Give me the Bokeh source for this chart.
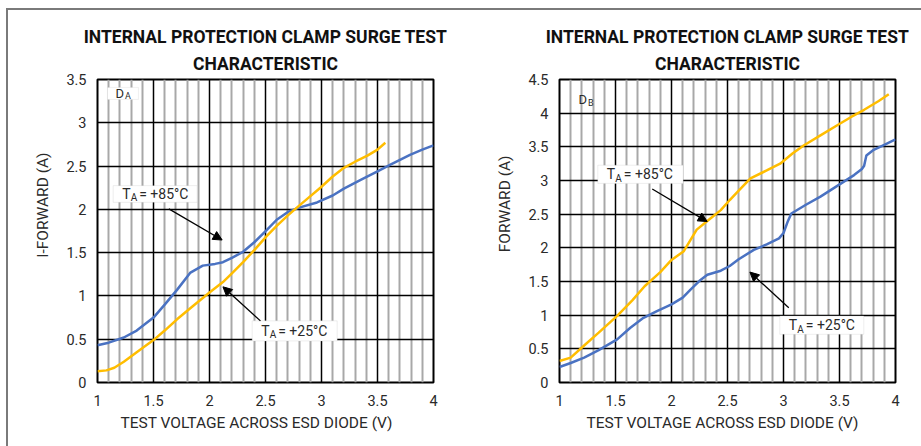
from bokeh.plotting import figure
from bokeh.layouts import row
from bokeh.models import (Range1d, FixedTicker, Label, Arrow, NormalHead,
                          BoxAnnotation, Title)
from bokeh.embed import file_html
from bokeh.resources import INLINE

# ---------------- data ----------------
# Panel D_A : blue = +85 C, yellow = +25 C
da85_v = [1.0, 1.1, 1.235, 1.35, 1.5, 1.6, 1.71, 1.83, 1.94, 2.05, 2.12, 2.2, 2.3, 2.4,
          2.51, 2.6, 2.7, 2.8, 2.96, 3.1, 3.2, 3.35, 3.5, 3.62, 3.79, 3.9, 4.0]
da85_i = [0.43, 0.46, 0.52, 0.60, 0.75, 0.90, 1.07, 1.27, 1.35, 1.37, 1.39, 1.44, 1.51, 1.62,
          1.76, 1.88, 1.97, 2.02, 2.08, 2.16, 2.24, 2.34, 2.44, 2.52, 2.63, 2.69, 2.74]
da25_v = [1.0, 1.08, 1.15, 1.235, 1.35, 1.5, 1.6, 1.71, 1.85, 2.0, 2.12, 2.2, 2.3, 2.4,
          2.51, 2.6, 2.7, 2.78, 2.88, 2.99, 3.1, 3.2, 3.3, 3.41, 3.5, 3.57]
da25_i = [0.13, 0.14, 0.17, 0.24, 0.35, 0.49, 0.60, 0.73, 0.88, 1.04, 1.16, 1.26, 1.39, 1.53,
          1.69, 1.81, 1.93, 2.02, 2.13, 2.25, 2.38, 2.48, 2.55, 2.62, 2.69, 2.77]

# Panel D_B : yellow = +85 C, blue = +25 C
db85_v = [1.0, 1.1, 1.22, 1.35, 1.515, 1.65, 1.76, 1.9, 2.0, 2.11, 2.225, 2.35, 2.44, 2.52,
          2.6, 2.705, 2.85, 2.97, 3.08, 3.18, 3.33, 3.48, 3.6, 3.72, 3.85, 3.94]
db85_i = [0.32, 0.37, 0.55, 0.74, 0.99, 1.22, 1.43, 1.64, 1.82, 1.95, 2.27, 2.44, 2.56, 2.71,
          2.85, 3.03, 3.15, 3.25, 3.40, 3.52, 3.67, 3.82, 3.94, 4.05, 4.18, 4.28]
db25_v = [1.0, 1.1, 1.22, 1.35, 1.515, 1.63, 1.75, 1.87, 2.0, 2.1, 2.17, 2.25, 2.32, 2.44,
          2.52, 2.6, 2.735, 2.85, 2.96, 3.0, 3.04, 3.07, 3.2, 3.33, 3.48, 3.63, 3.70, 3.72,
          3.74, 3.8, 3.9, 4.0]
db25_i = [0.23, 0.29, 0.37, 0.48, 0.64, 0.81, 0.96, 1.06, 1.16, 1.26, 1.38, 1.51, 1.60, 1.66,
          1.73, 1.83, 1.97, 2.05, 2.14, 2.22, 2.40, 2.51, 2.64, 2.76, 2.92, 3.08, 3.17, 3.22,
          3.37, 3.45, 3.53, 3.61]

x_ticks = [1, 1.5, 2, 2.5, 3, 3.5, 4]
x_tick_labels = ["1", "1.5", "2", "2.5", "3", "3.5", "4"]
da_y_ticks = [0, 0.5, 1, 1.5, 2, 2.5, 3, 3.5]
da_y_tick_labels = ["0", "0.5", "1", "1.5", "2", "2.5", "3", "3.5"]
db_y_ticks = [0, 0.5, 1, 1.5, 2, 2.5, 3, 3.5, 4, 4.5]
db_y_tick_labels = ["0", "0.5", "1", "1.5", "2", "2.5", "3", "3.5", "4", "4.5"]

title_lines = ["INTERNAL PROTECTION CLAMP SURGE TEST", "CHARACTERISTIC"]
x_title = "TEST VOLTAGE ACROSS ESD DIODE (V)"
da_y_title = "I-FORWARD (A)"
db_y_title = "FORWARD (A)"

BLUE = "#4a72c2"
YELLOW = "#ffbd00"
FONT = "Roboto"
TXT = "#2a2a2a"


def panel(width, left, right, top, bottom, ymax, yticks, ylabels, ytitle, yoff, xoff):
    p = figure(width=width, height=436, output_backend="svg", toolbar_location=None,
               x_range=Range1d(1, 4), y_range=Range1d(0, ymax),
               min_border_left=left, min_border_right=right,
               min_border_top=top, min_border_bottom=bottom)
    p.background_fill_color = "white"
    p.border_fill_color = "white"
    p.outline_line_color = "black"
    p.outline_line_width = 2
    minor = [round(1 + 0.1 * k, 1) for k in range(31) if k % 5]
    p.xaxis.ticker = FixedTicker(ticks=x_ticks, minor_ticks=minor)
    p.yaxis.ticker = FixedTicker(ticks=yticks)
    p.xaxis.major_label_overrides = dict(zip(x_ticks, x_tick_labels))
    p.yaxis.major_label_overrides = dict(zip(yticks, ylabels))
    for ax in (p.xaxis[0], p.yaxis[0]):
        ax.axis_line_color = None
        ax.major_tick_line_color = None
        ax.minor_tick_line_color = None
        ax.major_tick_out = 0
        ax.major_tick_in = 0
        ax.minor_tick_out = 0
        ax.major_label_text_font = FONT
        ax.major_label_text_font_size = "14.5px"
        ax.major_label_text_color = TXT
    p.xaxis.major_label_standoff = 12
    p.yaxis.major_label_standoff = 11
    p.xgrid.grid_line_color = "black"
    p.xgrid.grid_line_width = 1.5
    p.xgrid.minor_grid_line_color = "#a8a8a8"
    p.xgrid.minor_grid_line_width = 2
    p.ygrid.grid_line_color = "black"
    p.ygrid.grid_line_width = 1.5
    p.title = None
    t2 = Title(text=title_lines[1], align="center", text_font=FONT, text_font_size="17.5px",
               text_font_style="bold", text_color="#111111", standoff=11,
               text_line_height=0.85)
    t1 = Title(text=title_lines[0], align="center", text_font=FONT, text_font_size="17.5px",
               text_font_style="bold", text_color="#111111", standoff=0)
    p.add_layout(t2, "above")
    p.add_layout(t1, "above")
    ty = Title(text=ytitle, align="right", offset=yoff, text_font=FONT,
               text_font_size="15.5px", text_font_style="normal", text_color=TXT,
               standoff=23)
    p.add_layout(ty, "left")
    tx = Title(text=x_title, align="left", offset=xoff, text_font=FONT,
               text_font_size="15.5px", text_font_style="normal", text_color=TXT,
               standoff=6)
    p.add_layout(tx, "below")
    return p


def temp_note(p, box, text):
    l, r, b, t = box
    p.add_layout(BoxAnnotation(left=l, right=r, bottom=b, top=t, fill_color="white",
                               fill_alpha=1, line_color="#c8c8c8", line_width=1))
    ym = (b + t) / 2
    common = dict(text_font=FONT, text_color=TXT, text_baseline="middle")
    p.add_layout(Label(x=l, y=ym, x_offset=9, text="T", text_font_size="14px", **common))
    p.add_layout(Label(x=l, y=ym, x_offset=17.5, y_offset=-4, text="A",
                       text_font_size="10px", **common))
    p.add_layout(Label(x=l, y=ym, x_offset=26, text=text, text_font_size="14px", **common))


def arrow(p, tail, head):
    p.add_layout(Arrow(x_start=tail[0], y_start=tail[1], x_end=head[0], y_end=head[1],
                       line_color="black", line_width=1.3,
                       end=NormalHead(size=9, fill_color="black", line_color="black")))


def tag(p, x, y, main, sub, boxed):
    if boxed:
        p.add_layout(BoxAnnotation(left=boxed[0], right=boxed[1], bottom=boxed[2], top=boxed[3],
                                   fill_color="white", fill_alpha=1,
                                   line_color="#d0d0d0", line_width=1))
    common = dict(text_font=FONT, text_color=TXT, text_baseline="middle")
    p.add_layout(Label(x=x, y=y, text=main, text_font_size="13px", **common))
    p.add_layout(Label(x=x, y=y, x_offset=9.5, y_offset=-3, text=sub,
                       text_font_size="9px", **common))


# ---------------- panel A ----------------
pa = panel(452, 89, 27, 69, 64, 3.5, da_y_ticks, da_y_tick_labels, da_y_title, 73, 23)
pa.line(da85_v, da85_i, line_color=BLUE, line_width=2.5)
pa.line(da25_v, da25_i, line_color=YELLOW, line_width=2.5)
temp_note(pa, (1.14, 1.89, 2.081, 2.274), "= +85°C")
temp_note(pa, (2.381, 3.14, 0.48, 0.712), "= +25°C")
arrow(pa, (1.637, 2.005), (2.113, 1.646))
arrow(pa, (2.455, 0.712), (2.12, 1.105))
tag(pa, 1.16, 3.34, "D", "A", (1.089, 1.366, 3.269, 3.408))

# ---------------- panel B ----------------
pb = panel(461, 99, 26, 69, 62, 4.5, db_y_ticks, db_y_tick_labels, db_y_title, 76, 27)
pb.line(db85_v, db85_i, line_color=YELLOW, line_width=2.5)
pb.line(db25_v, db25_i, line_color=BLUE, line_width=2.5)
temp_note(pb, (1.342, 2.104, 2.957, 3.227), "= +85°C")
temp_note(pb, (2.967, 3.717, 0.716, 0.987), "= +25°C")
arrow(pb, (1.828, 2.873), (2.319, 2.39))
arrow(pb, (3.047, 1.11), (2.70, 1.64))
tag(pb, 1.17, 4.2, "D", "B", None)

layout = row(pa, pb, margin=(10, 0, 0, 8),
             styles={"box-shadow": "-1px -1px 0 1px #7a7a7a"})

open("out.html", "w").write(file_html(layout, INLINE))
